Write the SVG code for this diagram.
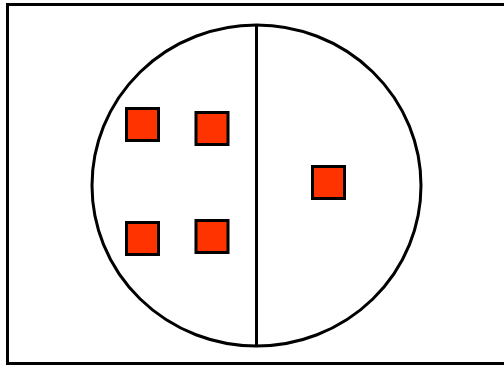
<svg xmlns="http://www.w3.org/2000/svg" width="504" height="367" viewBox="0 0 504 367">
<style>
.sq{fill:#ff3300;stroke:#000;stroke-width:3}
.ln{fill:none;stroke:#000;stroke-width:3}
</style>
<rect x="0" y="0" width="504" height="367" fill="#fff"/>
<rect class="ln" x="7.5" y="4.5" width="510" height="359"/>
<g id="set">
<ellipse class="ln" cx="256.5" cy="185.5" rx="164.5" ry="160.5"/>
</g>
<g id="connectors">
<line class="ln" x1="256.5" y1="25" x2="256.5" y2="347"/>
</g>
<g id="item1"><rect class="sq" x="126.5" y="108.5" width="32" height="32"/></g>
<g id="item2"><rect class="sq" x="196" y="112.5" width="32" height="32"/></g>
<g id="item3"><rect class="sq" x="126.5" y="222.5" width="32" height="32"/></g>
<g id="item4"><rect class="sq" x="196" y="220.5" width="32" height="32"/></g>
<g id="item5"><rect class="sq" x="312.5" y="166.5" width="32" height="32"/></g>
</svg>
